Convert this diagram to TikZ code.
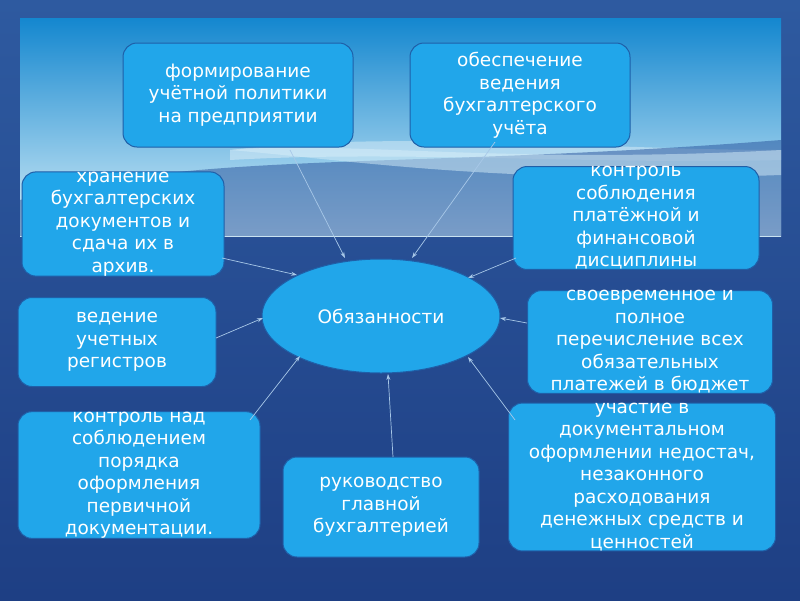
\documentclass[tikz,border=0pt]{standalone}
\usepackage{fontspec}
\setmainfont{DejaVu Sans}
\usetikzlibrary{shapes.geometric,arrows.meta}
\definecolor{bgA}{HTML}{1E3F84}
\definecolor{bgB}{HTML}{2E5AA0}
\definecolor{skyA}{HTML}{1487CF}
\definecolor{skyB}{HTML}{D6EEF8}
\definecolor{boxF}{HTML}{21A6EA}
\definecolor{boxD}{HTML}{1F5FA8}
\definecolor{lnC}{HTML}{A8C8E8}
\begin{document}
\begin{tikzpicture}[x=1pt,y=-1pt,
 bx/.style={draw=boxD,line width=1pt,fill=boxF,rounded corners=14pt,text=white,align=center,font=\fontsize{18.5}{22.5}\selectfont},
 ar/.style={draw=lnC,line width=0.7pt,-{Stealth[length=6pt,width=4pt]}}]
\useasboundingbox (0,0) rectangle (800,600);
\shade[top color=bgB,bottom color=bgA] (0,0) rectangle (800,600);
\shade[top color=skyA,bottom color=skyB] (20,18) rectangle (781,236);
\fill[white,opacity=0.35] (230,150) .. controls (400,130) and (600,150) .. (781,150) -- (781,160) .. controls (600,165) and (400,150) .. (230,160) -- cycle;
\fill[bgB,opacity=0.55] (20,236) -- (20,200) .. controls (200,150) and (400,170) .. (781,140) -- (781,236) -- cycle;
\fill[skyB,opacity=0.5] (230,150) .. controls (350,140) and (500,165) .. (781,150) -- (781,175) .. controls (500,185) and (350,160) .. (230,150);
\node[bx,minimum width=230,minimum height=104,inner sep=0] (f) at (238,95) {формирование\\учётной политики\\на предприятии};
\node[bx,minimum width=220,minimum height=104,inner sep=0] (o) at (520,95) {обеспечение\\ведения\\бухгалтерского\\учёта};
\node[bx,minimum width=202,minimum height=96,inner sep=0] (h) at (123,224) {хранение\\бухгалтерских\\документов и\\сдача их в\\архив.};
\node[bx,minimum width=246,minimum height=95,inner sep=0] (k) at (636,218) {контроль\\соблюдения\\платёжной и\\финансовой\\дисциплины};
\node[draw=boxD,line width=1pt,fill=boxF,ellipse,minimum width=238,minimum height=114] (e) at (381,316) {};
\node[text=white,font=\fontsize{18.5}{22}\selectfont] at (381,316) {Обязанности};
\node[bx,minimum width=198,minimum height=89,inner sep=0] (v) at (117,342) {ведение\\учетных\\регистров};
\node[bx,minimum width=245,minimum height=92,inner sep=0] (s) at (650,342) {своевременное и\\полное\\перечисление всех\\обязательных\\платежей в бюджет};
\node[bx,minimum width=242,minimum height=124,inner sep=0] (kn) at (139,475) {контроль над\\соблюдением\\порядка\\оформления\\первичной\\документации.};
\node[bx,minimum width=196,minimum height=100,inner sep=0] (r) at (381,507) {руководство\\главной\\бухгалтерией};
\node[bx,minimum width=267,minimum height=117,inner sep=0] (u) at (642,477) {участие в\\документальном\\оформлении недостач,\\незаконного\\расходования\\денежных средств и\\ценностей};
\draw[ar] (290,150) -- (345,258);
\draw[ar] (495,142) -- (412,258);
\draw[ar] (222,258) -- (297,275);
\draw[ar] (516,258) -- (468,278);
\draw[ar] (216,338) -- (263,318);
\draw[ar] (527,323) -- (500,318);
\draw[ar] (250,420) -- (300,356);
\draw[ar] (393,457) -- (388,374);
\draw[ar] (515,420) -- (468,357);
\end{tikzpicture}
\end{document}
